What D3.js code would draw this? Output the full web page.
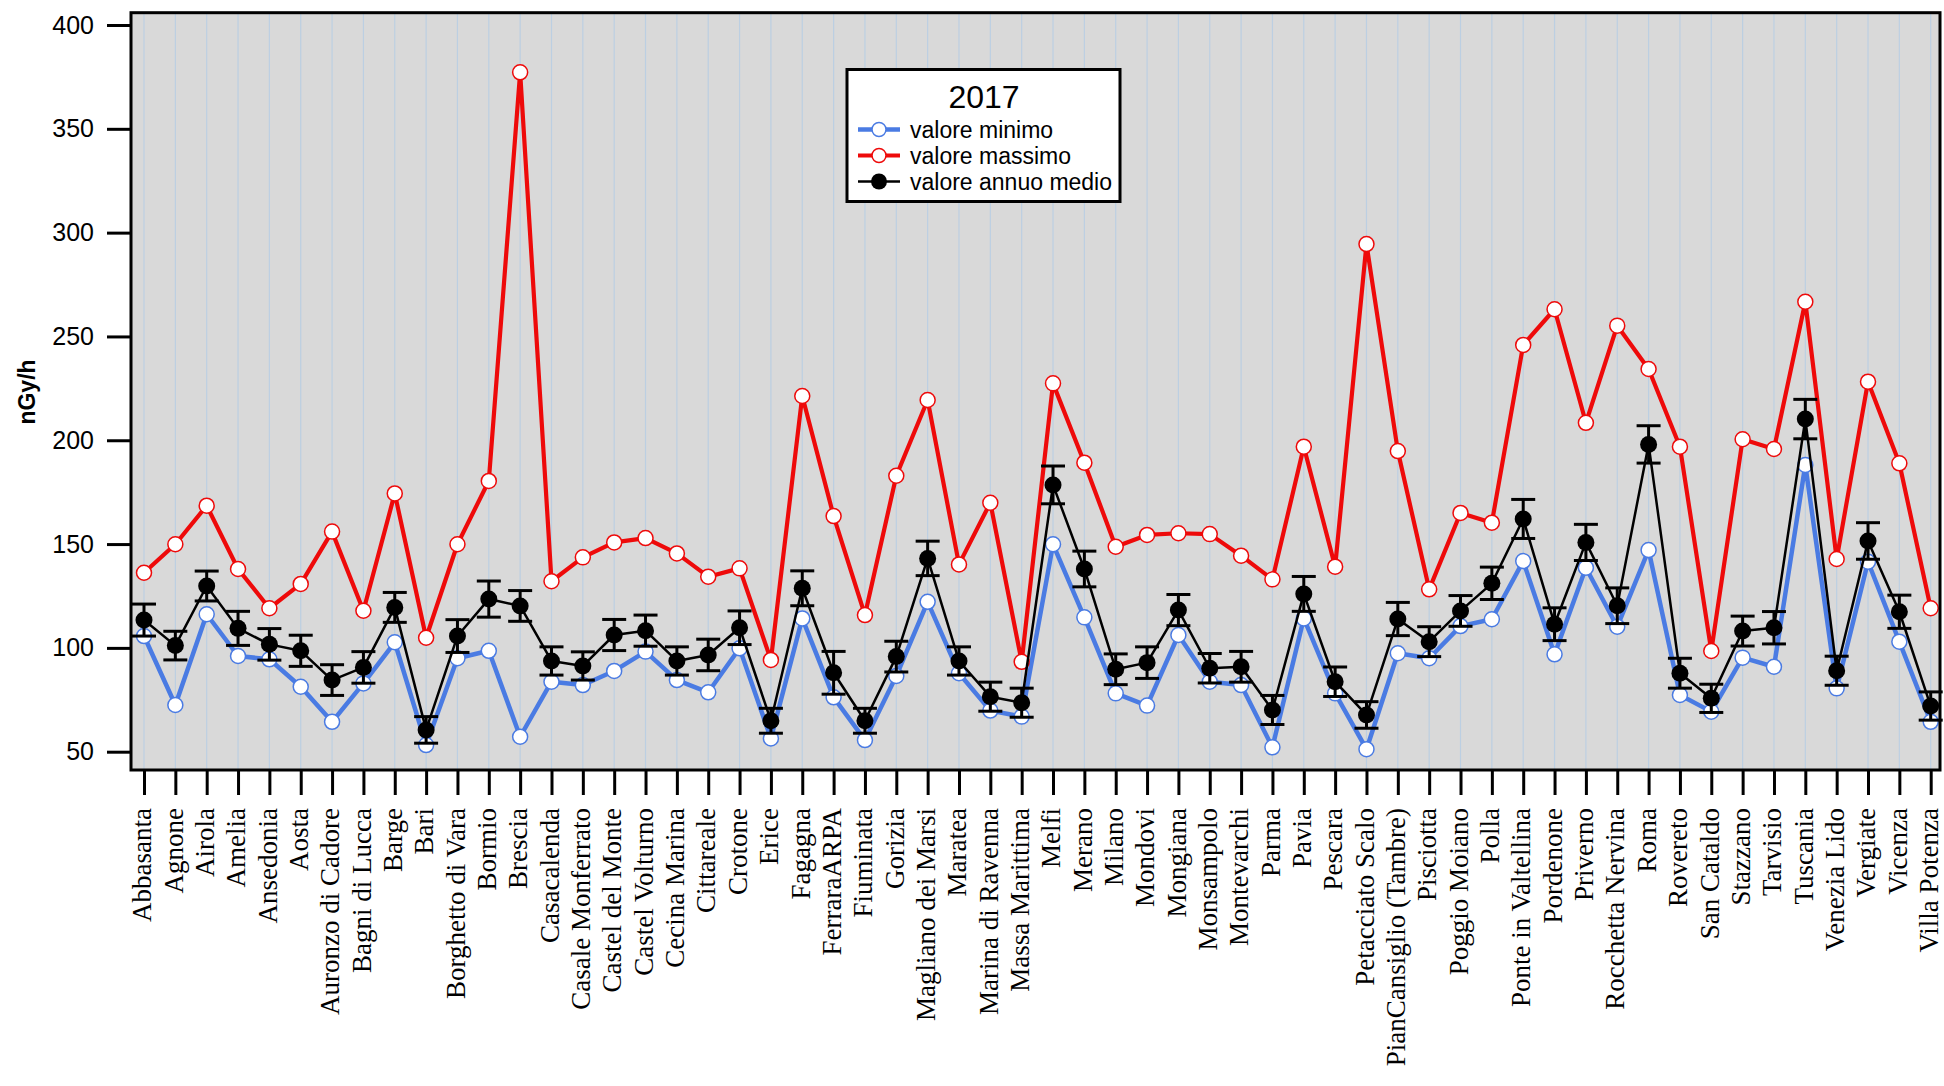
<!DOCTYPE html>
<html>
<head>
<meta charset="utf-8">
<script src="https://cdnjs.cloudflare.com/ajax/libs/d3/7.8.5/d3.min.js"></script>
<style>
  html, body { margin: 0; padding: 0; background: #ffffff; }
  svg { display: block; }
</style>
</head>
<body>
<svg id="chart" width="1944" height="1086"></svg>
<script>
// ---- DATA ----
const categories = ["Abbasanta","Agnone","Airola","Amelia","Ansedonia","Aosta","Auronzo di Cadore","Bagni di Lucca","Barge","Bari","Borghetto di Vara","Bormio","Brescia","Casacalenda","Casale Monferrato","Castel del Monte","Castel Volturno","Cecina Marina","Cittareale","Crotone","Erice","Fagagna","FerraraARPA","Fiuminata","Gorizia","Magliano dei Marsi","Maratea","Marina di Ravenna","Massa Marittima","Melfi","Merano","Milano","Mondovi","Mongiana","Monsampolo","Montevarchi","Parma","Pavia","Pescara","Petacciato Scalo","PianCansiglio (Tambre)","Pisciotta","Poggio Moiano","Polla","Ponte in Valtellina","Pordenone","Priverno","Rocchetta Nervina","Roma","Rovereto","San Cataldo","Stazzano","Tarvisio","Tuscania","Venezia Lido","Vergiate","Vicenza","Villa Potenza"];

const valoreMinimo = [105.7,72.5,116.2,96.1,94.5,81.3,64.4,82.9,102.7,53.2,95.0,98.6,57.2,83.7,82.1,88.9,98.2,84.5,78.6,99.8,56.4,114.2,76.2,55.6,86.5,122.2,87.8,69.8,66.9,149.9,114.7,78.1,72.2,106.2,83.7,82.1,52.1,114.2,78.1,51.2,97.4,95.0,110.5,113.8,141.8,96.9,138.6,110.2,147.1,77.3,69.3,95.3,90.9,188.1,80.5,141.5,103.0,64.4];

const valoreMassimo = [136.2,149.9,168.5,138.0,119.1,130.8,156.0,117.9,174.4,104.9,149.9,180.4,377.2,132.1,143.6,150.8,152.9,145.5,134.3,138.3,94.2,221.3,163.5,115.8,182.9,219.4,140.2,169.9,93.3,227.4,189.2,148.7,154.4,155.2,154.8,144.4,133.0,196.9,139.1,294.5,194.8,128.2,165.0,160.3,245.9,263.1,208.4,255.2,234.3,196.9,98.5,200.5,195.8,266.7,142.8,228.2,188.9,119.1];

const valoreMedio = [113.4,101.1,129.8,109.4,101.7,98.6,84.5,90.6,119.5,60.5,105.7,123.5,120.2,93.7,91.3,106.2,108.3,93.7,96.6,109.7,64.9,128.7,88.0,64.9,95.8,143.1,93.7,76.5,73.6,178.5,138.0,89.7,92.9,118.2,90.2,90.9,70.1,126.0,83.7,67.7,113.9,103.0,117.8,131.1,162.1,111.4,150.8,120.3,198.0,87.8,75.7,108.1,109.7,210.2,89.0,151.5,117.4,72.0];

const erroreMedio = [7.7,6.9,7.2,8.2,7.6,7.5,7.4,7.6,7.2,6.4,7.9,8.7,7.4,6.8,6.8,7.5,7.5,6.8,7.6,8.1,6.0,8.4,10.3,6.0,7.4,8.3,6.8,7.0,7.0,9.1,8.6,7.4,7.6,7.5,7.1,7.4,7.0,8.4,7.1,6.4,8.0,7.2,7.4,7.8,9.4,7.9,8.7,8.6,9.0,7.2,6.8,7.2,7.8,9.5,7.0,8.8,8.0,6.8];

const yTicks = [50,100,150,200,250,300,350,400];
const legendTitle = "2017";
const seriesNames = ["valore minimo","valore massimo","valore annuo medio"];
const yLabel = "nGy/h";

// ---- LAYOUT ----
const svg = d3.select("#chart");
const plotL = 131, plotR = 1940, plotT = 12.7, plotB = 770;
const blue = "#4a7be3", red = "#ee0a0a", black = "#000000";
const sansFont = "'Liberation Sans', Arial, sans-serif";
const serifFont = "'Liberation Serif', 'Times New Roman', serif";

const x = d3.scalePoint().domain(categories).range([144, 1930.7]);
const y = d3.scaleLinear().domain([50, 400]).range([751.7, 25]);

// background
svg.append("rect").attr("x", plotL).attr("y", plotT)
  .attr("width", plotR - plotL).attr("height", plotB - plotT)
  .attr("fill", "#d9d9d9");

// vertical grid
svg.append("g").selectAll("line").data(categories).join("line")
  .attr("x1", d => x(d)).attr("x2", d => x(d))
  .attr("y1", plotT).attr("y2", plotB)
  .attr("stroke", "#bccfe2").attr("stroke-width", 1.2);

// lines
const lineGen = arr => d3.line().x((d, i) => x(categories[i])).y(d => y(d))(arr);

svg.append("path").attr("d", lineGen(valoreMinimo))
  .attr("fill", "none").attr("stroke", blue).attr("stroke-width", 4.5).attr("stroke-linejoin", "round");
svg.append("g").selectAll("circle").data(valoreMinimo).join("circle")
  .attr("cx", (d, i) => x(categories[i])).attr("cy", d => y(d)).attr("r", 7.5)
  .attr("fill", "#ffffff").attr("stroke", blue).attr("stroke-width", 1.5);

svg.append("path").attr("d", lineGen(valoreMassimo))
  .attr("fill", "none").attr("stroke", red).attr("stroke-width", 4.2).attr("stroke-linejoin", "round");
svg.append("g").selectAll("circle").data(valoreMassimo).join("circle")
  .attr("cx", (d, i) => x(categories[i])).attr("cy", d => y(d)).attr("r", 7.5)
  .attr("fill", "#ffffff").attr("stroke", red).attr("stroke-width", 1.5);

// error bars
const eb = svg.append("g").attr("stroke", black).attr("stroke-width", 3);
valoreMedio.forEach((v, i) => {
  const cx = x(categories[i]);
  const e = erroreMedio[i];
  eb.append("line").attr("x1", cx).attr("x2", cx).attr("y1", y(v + e)).attr("y2", y(v - e));
  eb.append("line").attr("x1", cx - 12).attr("x2", cx + 12).attr("y1", y(v + e)).attr("y2", y(v + e));
  eb.append("line").attr("x1", cx - 12).attr("x2", cx + 12).attr("y1", y(v - e)).attr("y2", y(v - e));
});

svg.append("path").attr("d", lineGen(valoreMedio))
  .attr("fill", "none").attr("stroke", black).attr("stroke-width", 2.5).attr("stroke-linejoin", "round");
svg.append("g").selectAll("circle").data(valoreMedio).join("circle")
  .attr("cx", (d, i) => x(categories[i])).attr("cy", d => y(d)).attr("r", 8.5)
  .attr("fill", black);

// frame
svg.append("rect").attr("x", plotL).attr("y", plotT)
  .attr("width", plotR - plotL).attr("height", plotB - plotT)
  .attr("fill", "none").attr("stroke", "#000").attr("stroke-width", 3);

// y axis
const yAxis = svg.append("g").attr("transform", `translate(${plotL},0)`)
  .call(d3.axisLeft(y).tickValues(yTicks).tickSize(24).tickPadding(13));
yAxis.select(".domain").remove();
yAxis.selectAll(".tick line").attr("stroke", "#000").attr("stroke-width", 3);
yAxis.selectAll(".tick text").attr("font-family", sansFont).attr("font-size", 25).attr("fill", "#000");

// x axis
const xAxis = svg.append("g").attr("transform", `translate(0,${plotB})`)
  .call(d3.axisBottom(x).tickSize(25));
xAxis.select(".domain").remove();
xAxis.selectAll(".tick line").attr("stroke", "#000").attr("stroke-width", 3);
xAxis.selectAll(".tick text")
  .attr("font-family", serifFont).attr("font-size", 27).attr("fill", "#000")
  .attr("transform", "rotate(-90)")
  .attr("x", -38).attr("y", 0).attr("dy", "0.25em")
  .style("text-anchor", "end");

// y label
svg.append("text").attr("transform", "translate(27,392) rotate(-90)")
  .attr("text-anchor", "middle").attr("dy", "0.35em")
  .attr("font-family", sansFont).attr("font-weight", "bold").attr("font-size", 23)
  .text(yLabel);

// legend
const lg = svg.append("g");
lg.append("rect").attr("x", 847).attr("y", 69.5).attr("width", 273).attr("height", 132)
  .attr("fill", "#ffffff").attr("stroke", "#000").attr("stroke-width", 3);
lg.append("text").attr("x", 984).attr("y", 107.5).attr("text-anchor", "middle")
  .attr("font-family", sansFont).attr("font-size", 32).text(legendTitle);
const legendRows = [
  {name: seriesNames[0], color: blue, w: 4.5, filled: false},
  {name: seriesNames[1], color: red, w: 4.2, filled: false},
  {name: seriesNames[2], color: black, w: 2.5, filled: true}
];
legendRows.forEach((r, i) => {
  const cy = 129.5 + i * 26;
  lg.append("line").attr("x1", 858).attr("x2", 900).attr("y1", cy).attr("y2", cy)
    .attr("stroke", r.color).attr("stroke-width", r.w);
  lg.append("circle").attr("cx", 879).attr("cy", cy).attr("r", r.filled ? 8 : 7)
    .attr("fill", r.filled ? black : "#fff").attr("stroke", r.filled ? "none" : r.color).attr("stroke-width", 1.5);
  lg.append("text").attr("x", 910).attr("y", cy).attr("dy", "0.35em")
    .attr("font-family", sansFont).attr("font-size", 23).text(r.name);
});
</script>
</body>
</html>
